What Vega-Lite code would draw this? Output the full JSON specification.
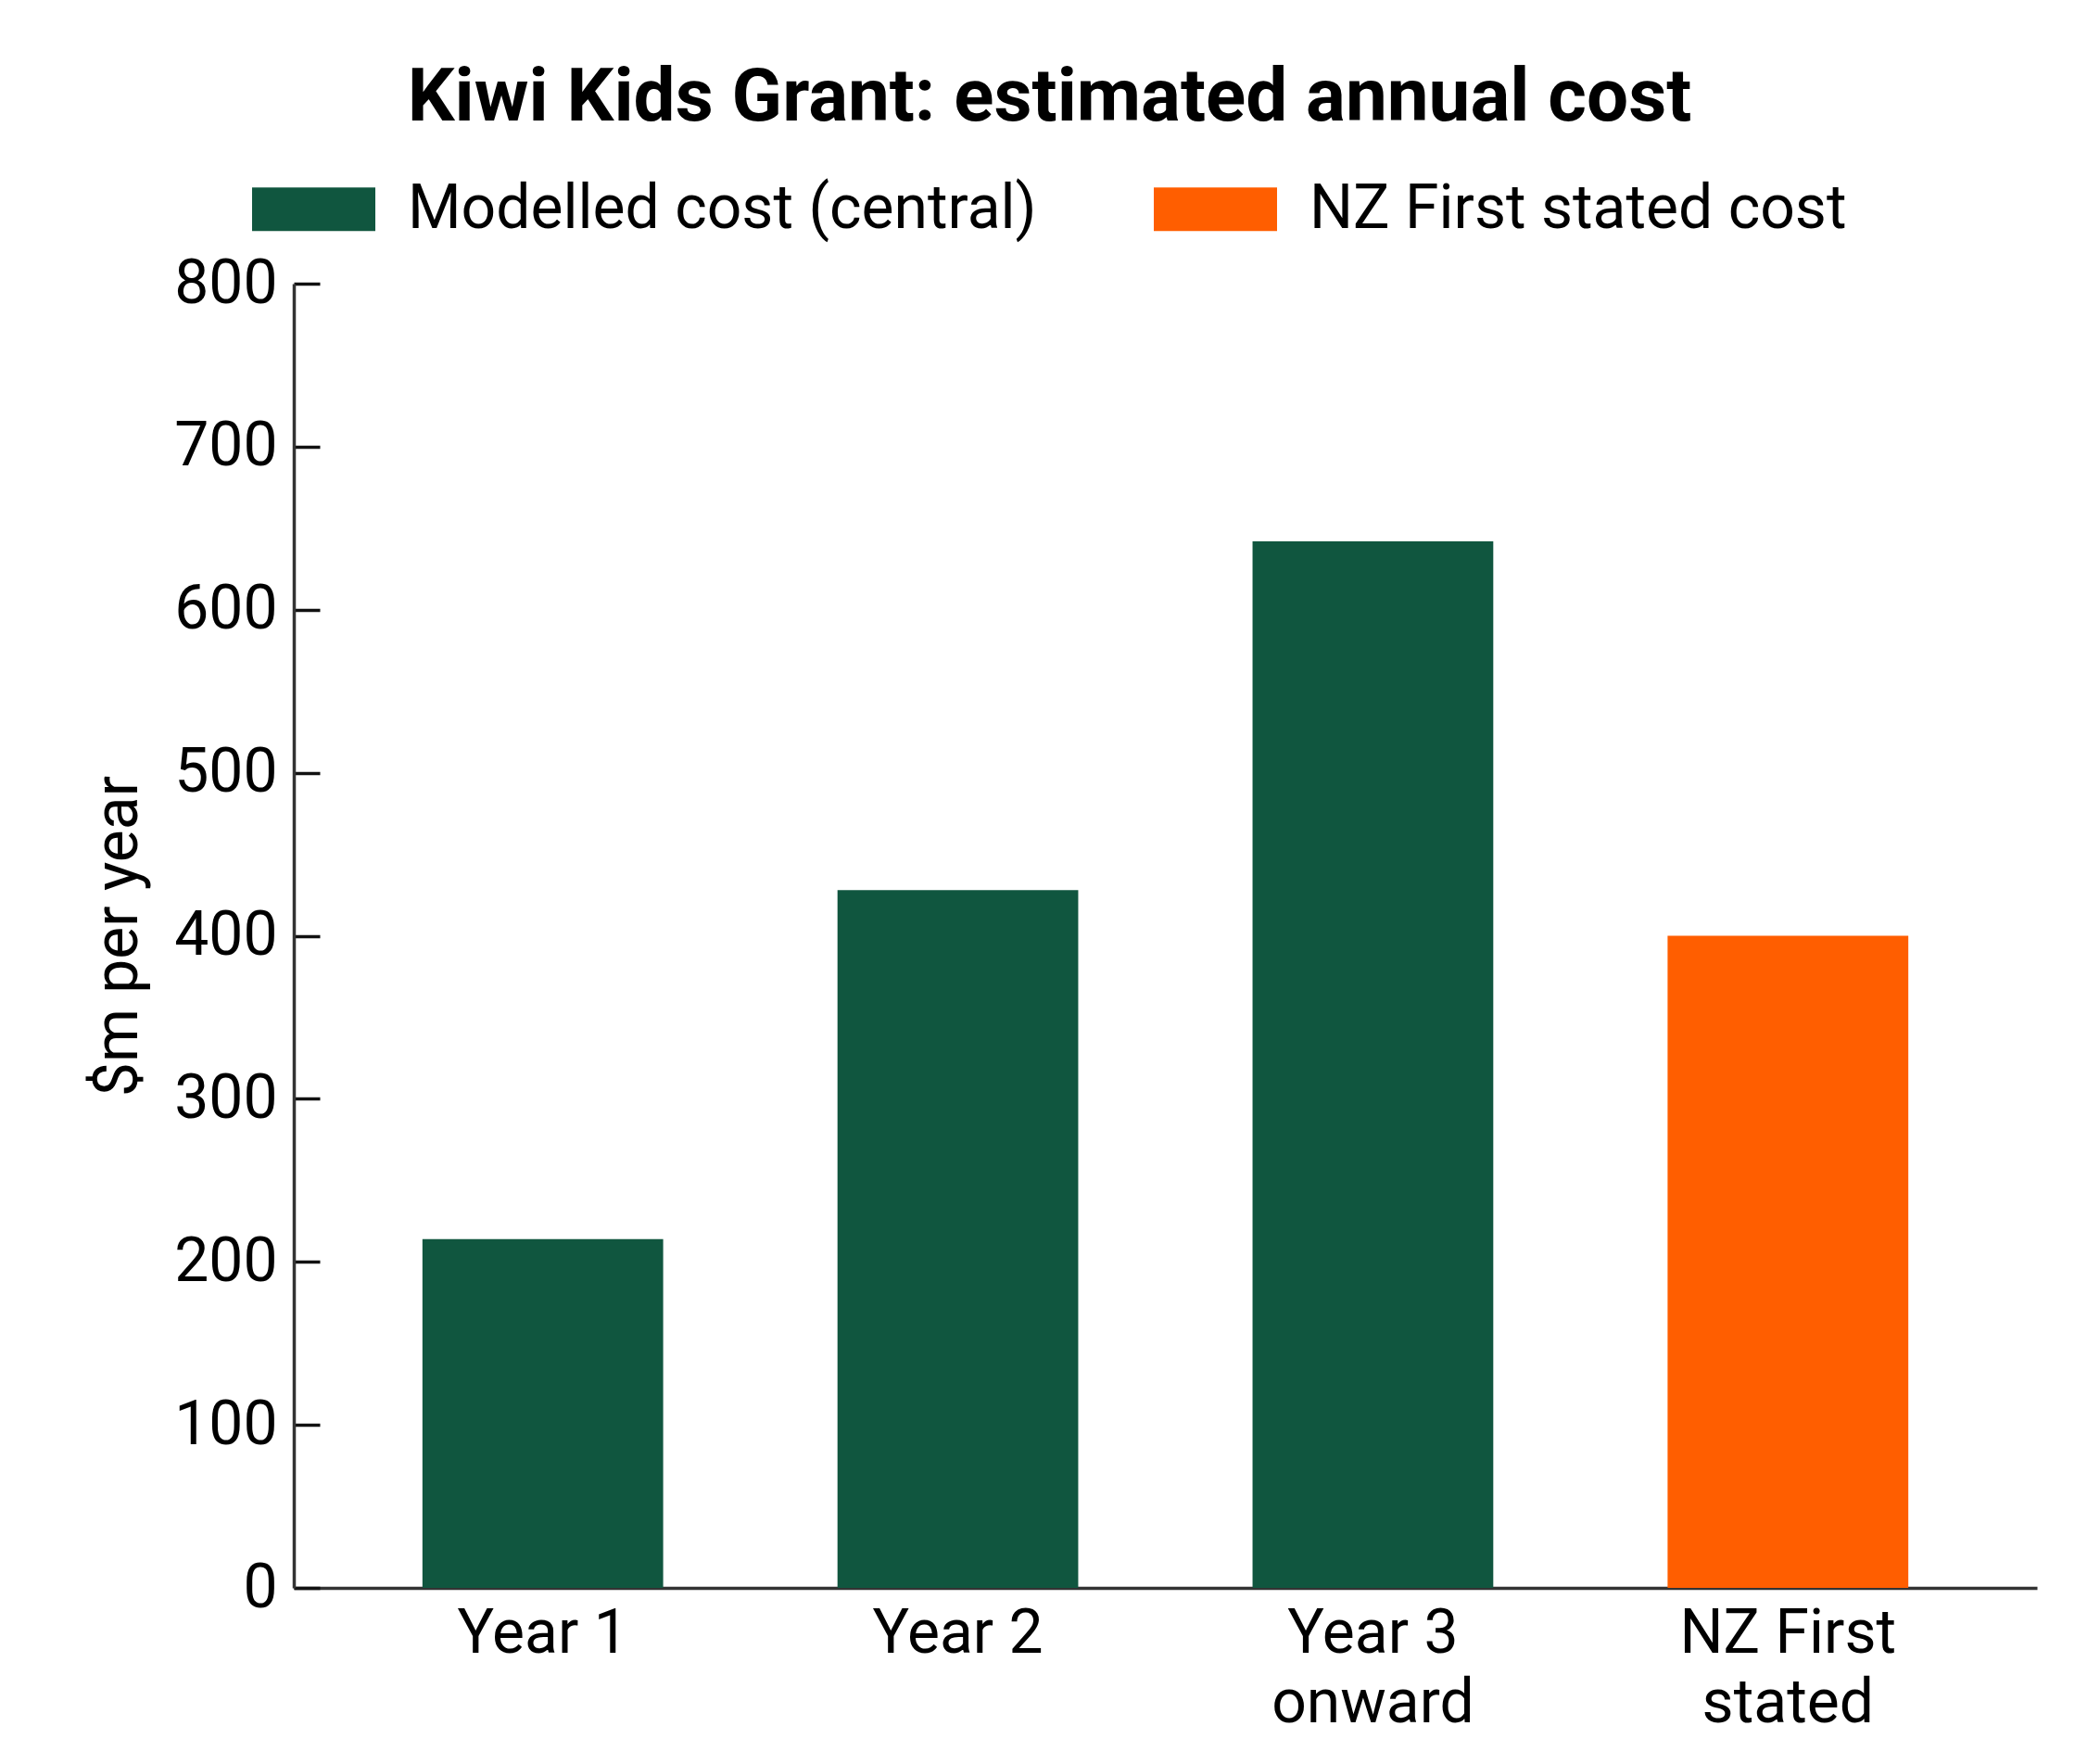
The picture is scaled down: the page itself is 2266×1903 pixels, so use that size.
{
  "$schema": "https://vega.github.io/schema/vega-lite/v6.json",
  "width": 1881,
  "height": 1407,
  "autosize": {"type": "none"},
  "padding": {"left": 317, "top": 306, "right": 68, "bottom": 190},
  "background": "white",
  "title": {
    "text": "Kiwi Kids Grant: estimated annual cost",
    "font": "Roboto",
    "fontSize": 80,
    "fontWeight": "bold",
    "color": "black",
    "anchor": "middle",
    "frame": "group",
    "dx": -125,
    "offset": 12
  },
  "data": {
    "values": [
      {"category": "Year 1", "cost": 214, "series": "Modelled cost (central)"},
      {"category": "Year 2", "cost": 428, "series": "Modelled cost (central)"},
      {"category": "Year 3 onward", "cost": 642, "series": "Modelled cost (central)"},
      {"category": "NZ First stated", "cost": 400, "series": "NZ First stated cost"}
    ]
  },
  "mark": {"type": "bar"},
  "encoding": {
    "x": {
      "field": "category",
      "type": "nominal",
      "sort": null,
      "scale": {"paddingInner": 0.42, "paddingOuter": 0.31},
      "axis": {
        "title": null,
        "ticks": false,
        "tickSize": 0,
        "labelAngle": 0,
        "labelFont": "Roboto",
        "labelFontSize": 66,
        "labelColor": "black",
        "labelPadding": 17,
        "labelLineHeight": 75,
        "labelBaseline": "top",
        "labelLimit": 0,
        "domainColor": "#333333",
        "domainWidth": 3.5,
        "labelExpr": "datum.label == 'Year 3 onward' ? ['Year 3', 'onward'] : datum.label == 'NZ First stated' ? ['NZ First', 'stated'] : datum.label"
      }
    },
    "y": {
      "field": "cost",
      "type": "quantitative",
      "scale": {"domain": [0, 800], "nice": false},
      "axis": {
        "values": [0, 100, 200, 300, 400, 500, 600, 700, 800],
        "grid": false,
        "tickSize": -28,
        "tickWidth": 3.5,
        "tickColor": "#111111",
        "domainColor": "#333333",
        "domainWidth": 3.5,
        "labelFont": "Roboto",
        "labelFontSize": 66,
        "labelColor": "black",
        "labelPadding": 46,
        "labelFlush": false,
        "labelOverlap": false,
        "title": "$m per year",
        "titleFont": "Roboto",
        "titleFontSize": 66,
        "titleFontWeight": "normal",
        "titleColor": "black",
        "titlePadding": 26
      }
    },
    "color": {
      "field": "series",
      "type": "nominal",
      "scale": {
        "domain": ["Modelled cost (central)", "NZ First stated cost"],
        "range": ["#10563F", "#FF5E00"]
      },
      "legend": {
        "title": null,
        "orient": "none",
        "direction": "horizontal",
        "legendX": -45,
        "legendY": -147,
        "padding": 0,
        "symbolType": "M-1,-0.353L1,-0.353L1,0.353L-1,0.353Z",
        "symbolSize": 17689,
        "symbolStrokeWidth": 0,
        "symbolOpacity": 1,
        "labelFont": "Roboto",
        "labelFontSize": 66,
        "labelColor": "black",
        "labelOffset": 35,
        "labelLimit": 0,
        "columnPadding": 126
      }
    }
  },
  "config": {"view": {"stroke": null}, "font": "Roboto"}
}
